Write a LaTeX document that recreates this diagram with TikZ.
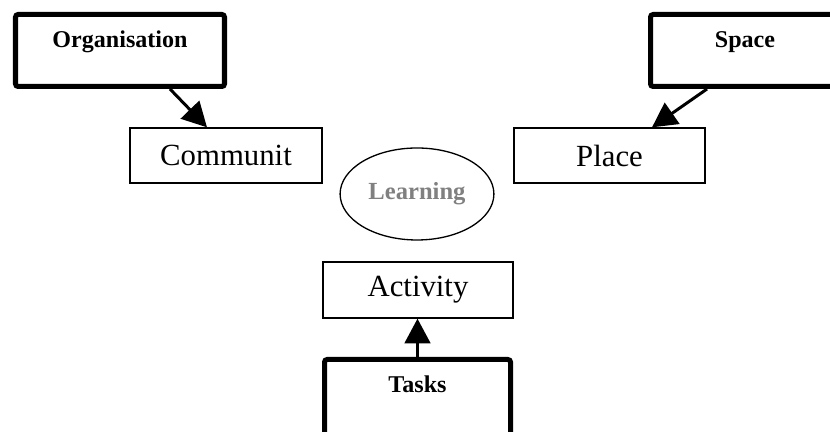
\documentclass[tikz,border=0pt]{standalone}
\usepackage{fontspec}
\setmainfont{Liberation Serif}
\usepackage{xcolor}
\usetikzlibrary{arrows.meta,shapes.geometric}
\definecolor{learngray}{RGB}{128,128,128}

\begin{document}
\begin{tikzpicture}[
  >= {Triangle[length=14pt,width=14.5pt]}, % arrow head style
  line width = 1.7pt
  ]

  \tikzstyle{outer}=[
    draw = black,
    line width = 2.85pt,
    rounded corners = 1.5pt,
    inner sep = 0pt,
    text height = 0.67cm,
    font = \fontsize{13.7}{16}\selectfont\bfseries
  ]
  \tikzstyle{inner}=[
    draw = black,
    line width = 0.75pt,
    inner sep = 0pt,
    minimum height = 1.1cm,
    font = \fontsize{17.5}{21}\selectfont
  ]

\clip (0,0) rectangle (16.6,8.64);
\useasboundingbox (0,0) rectangle (16.6,8.64);

\node[outer, text depth=0.77cm, minimum width=4.18cm] (O) at (2.4,7.63) {Organisation};
\node[outer, text depth=0.77cm, minimum width=3.78cm] (S) at (14.9,7.63) {Space};
\node[outer, text depth=1.2cm, minimum width=3.72cm] (T) at (8.35,0.515) {Tasks};

\node[inner, minimum width=3.84cm] (C) at (4.52,5.53) {Communit};
\node[inner, minimum width=3.82cm] (P) at (12.19,5.53) {Place};
\node[inner, minimum width=3.8cm, minimum height=1.12cm] (A) at (8.36,2.84) {Activity};

\node[draw=black, line width=0.75pt, ellipse, minimum width=3.04cm, minimum height=1.84cm,
      text=learngray, font=\fontsize{14}{16}\selectfont\bfseries] (L) at (8.34,4.76) {Learning};

 \draw [->] ([xshift=1cm]O.south) -- ([xshift=-0.38cm]C.north);
 \draw [->] ([xshift=-0.76cm]S.south) -- ([xshift=0.85cm]P.north);
 \draw [->] (T.north) -- (T.north |- A.south);
\end{tikzpicture}
\end{document}
